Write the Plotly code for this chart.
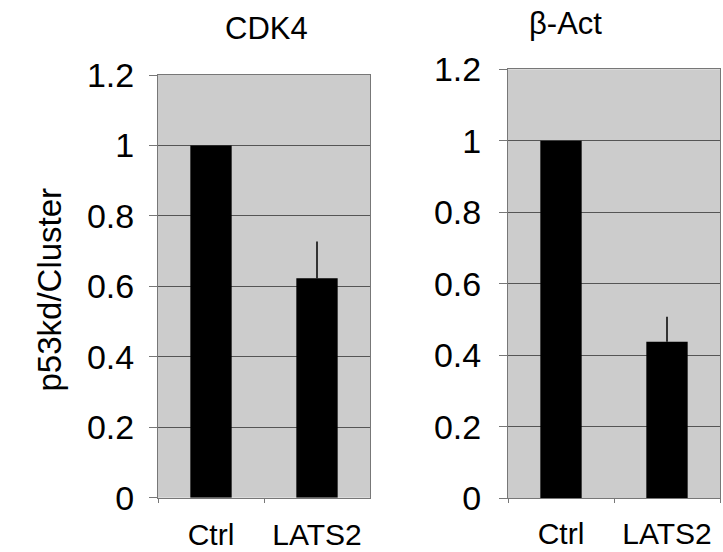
import plotly.graph_objects as go

categories = ["Ctrl", "LATS2"]
cdk4_values = [1.0, 0.623]
cdk4_errors = [0.0, 0.104]
bact_values = [1.0, 0.438]
bact_errors = [0.0, 0.07]
y_ticks = [0, 0.2, 0.4, 0.6, 0.8, 1, 1.2]
y_tick_labels = ["0", "0.2", "0.4", "0.6", "0.8", "1", "1.2"]

W, H = 723, 552
FONT = "Liberation Sans, Arial, sans-serif"

fig = go.Figure()
fig.add_trace(go.Bar(x=categories, y=cdk4_values, width=0.39, marker=dict(color="black", line=dict(width=0)),
                     error_y=dict(type="data", array=cdk4_errors, arrayminus=[0, 0], symmetric=False,
                                  width=0, thickness=1.5, color="black"),
                     xaxis="x", yaxis="y", showlegend=False))
fig.add_trace(go.Bar(x=categories, y=bact_values, width=0.39, marker=dict(color="black", line=dict(width=0)),
                     error_y=dict(type="data", array=bact_errors, arrayminus=[0, 0], symmetric=False,
                                  width=0, thickness=1.5, color="black"),
                     xaxis="x2", yaxis="y2", showlegend=False))

def yax(domain, anchor, standoff):
    return dict(domain=domain, anchor=anchor, range=[0, 1.2], tickvals=y_ticks, ticktext=y_tick_labels,
                showgrid=True, gridcolor="#555555", gridwidth=1, zeroline=False, automargin=False,
                showline=True, linecolor="#777777", linewidth=1, mirror=True,
                ticks="outside", ticklen=8, tickcolor="#777777", ticklabelstandoff=standoff,
                tickfont=dict(family=FONT, size=34, color="black"), fixedrange=True)

def xax(domain, anchor, standoff):
    return dict(domain=domain, anchor=anchor, showgrid=False, zeroline=False, automargin=False,
                showline=True, linecolor="#777777", linewidth=1, mirror=True,
                ticks="outside", ticklen=4, tickcolor="#777777", tickson="boundaries",
                ticklabelstandoff=standoff,
                tickfont=dict(family=FONT, size=30, color="black"), fixedrange=True)

fig.update_layout(
    width=W, height=H,
    template="none",
    margin=dict(l=0, r=0, t=0, b=0, autoexpand=False),
    paper_bgcolor="white", plot_bgcolor="#cccccc",
    xaxis=xax([158 / W, 370 / W], "y", 10),
    yaxis=yax([(H - 497.7) / H, (H - 75) / H], "x", 8),
    xaxis2=xax([508 / W, 720 / W], "y2", 9),
    yaxis2=yax([(H - 498.3) / H, (H - 69.3) / H], "x2", 11),
    annotations=[
        dict(text="CDK4", x=266 / W, y=1 - 28 / H, xref="paper", yref="paper", showarrow=False,
             yanchor="middle", font=dict(family=FONT, size=31, color="black")),
        dict(text="β-Act", x=604 / W, y=1 - 24 / H, xref="paper", yref="paper", showarrow=False,
             yanchor="middle", font=dict(family=FONT, size=31, color="black")),
        dict(text="p53kd/Cluster", x=28 / W, y=1 - 290 / H, xref="paper", yref="paper", showarrow=False,
             textangle=-90, font=dict(family=FONT, size=33, color="black")),
    ],
)

fig.write_html("out.html", config={"displayModeBar": False},
               post_script="document.body.style.margin='0px';")
